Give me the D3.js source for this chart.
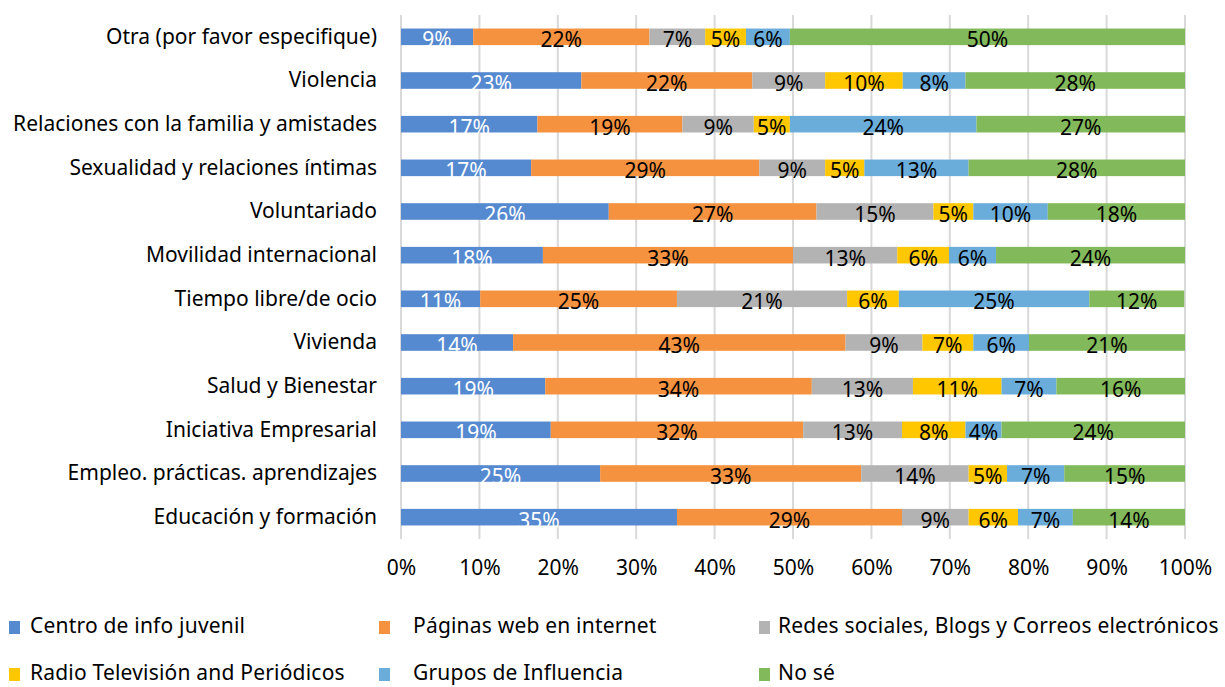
<!DOCTYPE html>
<html>
<head>
<meta charset="utf-8">
<script src="https://cdn.jsdelivr.net/npm/d3@7"></script>
<style>
  body { margin: 0; background: #fff; }
  text { font-family: "Noto Sans", "Open Sans", sans-serif; }
</style>
</head>
<body>
<svg id="chart" width="1225" height="687"></svg>
<script>
// categories, top to bottom
var categories = [
  "Otra (por favor especifique)",
  "Violencia",
  "Relaciones con la familia y amistades",
  "Sexualidad y relaciones íntimas",
  "Voluntariado",
  "Movilidad  internacional",
  "Tiempo libre/de ocio",
  "Vivienda",
  "Salud y Bienestar",
  "Iniciativa  Empresarial",
  "Empleo. prácticas. aprendizajes",
  "Educación y formación"
];

var seriesNames = [
  "Centro de info juvenil",
  "Páginas web en internet",
  "Redes sociales, Blogs y Correos electrónicos",
  "Radio Televisión and Periódicos",
  "Grupos de Influencia",
  "No sé"
];

var colors = ["#5589d0", "#f4923f", "#b3b3b3", "#ffc700", "#6badda", "#82b95a"];

// shares (%) per series, same order as categories
var centroInfo = [9.2, 23.0, 17.4, 16.6, 26.5, 18.1, 10.1, 14.3, 18.4, 19.1, 25.4, 35.2];
var paginasWeb = [22.5, 21.8, 18.5, 29.1, 26.5, 31.9, 25.1, 42.4, 34.0, 32.2, 33.3, 28.7];
var redesSociales = [7.1, 9.3, 9.1, 8.4, 14.9, 13.3, 21.7, 9.8, 12.9, 12.6, 13.7, 8.5];
var radioTv = [5.2, 9.9, 4.6, 5.0, 5.1, 6.6, 6.6, 6.5, 11.3, 8.1, 4.9, 6.3];
var grupos = [5.6, 8.0, 23.8, 13.3, 9.5, 6.0, 24.3, 7.1, 7.0, 4.6, 7.3, 7.0];
var noSe = [50.4, 28.0, 26.6, 27.6, 17.5, 24.1, 12.1, 19.9, 16.4, 23.4, 15.4, 14.3];

// printed data labels
var centroLabels = ["9%", "23%", "17%", "17%", "26%", "18%", "11%", "14%", "19%", "19%", "25%", "35%"];
var paginasLabels = ["22%", "22%", "19%", "29%", "27%", "33%", "25%", "43%", "34%", "32%", "33%", "29%"];
var redesLabels = ["7%", "9%", "9%", "9%", "15%", "13%", "21%", "9%", "13%", "13%", "14%", "9%"];
var radioLabels = ["5%", "10%", "5%", "5%", "5%", "6%", "6%", "7%", "11%", "8%", "5%", "6%"];
var gruposLabels = ["6%", "8%", "24%", "13%", "10%", "6%", "25%", "6%", "7%", "4%", "7%", "7%"];
var noSeLabels = ["50%", "28%", "27%", "28%", "18%", "24%", "12%", "21%", "16%", "24%", "15%", "14%"];

var xTicks = [0, 10, 20, 30, 40, 50, 60, 70, 80, 90, 100];

var allValues = [centroInfo, paginasWeb, redesSociales, radioTv, grupos, noSe];
var allLabels = [centroLabels, paginasLabels, redesLabels, radioLabels, gruposLabels, noSeLabels];

var rows = categories.map(function(c, i) {
  var row = { cat: c };
  seriesNames.forEach(function(s, k) { row["s" + k] = allValues[k][i]; });
  return row;
});
var keys = seriesNames.map(function(s, k) { return "s" + k; });
var stacked = d3.stack().keys(keys)(rows);

var svg = d3.select("#chart");

var x = d3.scaleLinear().domain([0, 100]).range([401, 1185]);
var y = d3.scaleBand().domain(categories).range([15, 539]).paddingInner(0.62).paddingOuter(0.31);

// gridlines
svg.append("g")
  .selectAll("line")
  .data(xTicks)
  .enter()
  .append("line")
  .attr("x1", d => x(d))
  .attr("x2", d => x(d))
  .attr("y1", 15)
  .attr("y2", 539)
  .attr("stroke", "#d9d9d9")
  .attr("stroke-width", 2);

// bars
var layers = svg.append("g")
  .selectAll("g")
  .data(stacked)
  .enter()
  .append("g")
  .attr("fill", (d, k) => colors[k]);

layers.selectAll("rect")
  .data(d => d)
  .enter()
  .append("rect")
  .attr("x", d => x(d[0]))
  .attr("y", d => y(d.data.cat))
  .attr("width", d => x(d[1]) - x(d[0]))
  .attr("height", y.bandwidth());

// data labels
layers.each(function(layer, k) {
  d3.select(this).selectAll("text")
    .data(layer)
    .enter()
    .append("text")
    .attr("x", d => (x(d[0]) + x(d[1])) / 2)
    .attr("y", d => y(d.data.cat) + y.bandwidth() / 2 + 3)
    .attr("dy", "0.35em")
    .attr("text-anchor", "middle")
    .attr("font-size", 21)
    .attr("fill", k === 0 ? "#ffffff" : "#000000")
    .text((d, i) => allLabels[k][i]);
});

// category axis
var yAxis = svg.append("g")
  .attr("transform", "translate(401,0)")
  .call(d3.axisLeft(y).tickSize(0).tickPadding(24));
yAxis.select(".domain").remove();
yAxis.selectAll("text")
  .attr("font-size", 21)
  .attr("fill", "#000")
  .style("font-family", "'Noto Sans', sans-serif");

// value axis
var xAxis = svg.append("g")
  .attr("transform", "translate(0,556)")
  .call(d3.axisBottom(x).tickValues(xTicks).tickSize(0).tickPadding(4).tickFormat(d => d + "%"));
xAxis.select(".domain").remove();
xAxis.selectAll("text")
  .attr("font-size", 21)
  .attr("fill", "#000")
  .style("font-family", "'Noto Sans', sans-serif");

// legend
var legendX = [9, 379, 759];
var legendTextX = [30, 413, 778];
var legendY = [626, 673];
var legend = svg.append("g")
  .selectAll("g")
  .data(seriesNames)
  .enter()
  .append("g")
  .attr("transform", (d, k) => "translate(0," + legendY[Math.floor(k / 3)] + ")");

legend.append("rect")
  .attr("x", (d, k) => legendX[k % 3])
  .attr("y", -5)
  .attr("width", 11)
  .attr("height", 13)
  .attr("fill", (d, k) => colors[k]);

legend.append("text")
  .attr("x", (d, k) => legendTextX[k % 3])
  .attr("y", 0)
  .attr("dy", "0.35em")
  .attr("font-size", 21)
  .attr("letter-spacing", 0.2)
  .attr("fill", "#000")
  .text(d => d);
</script>
</body>
</html>
